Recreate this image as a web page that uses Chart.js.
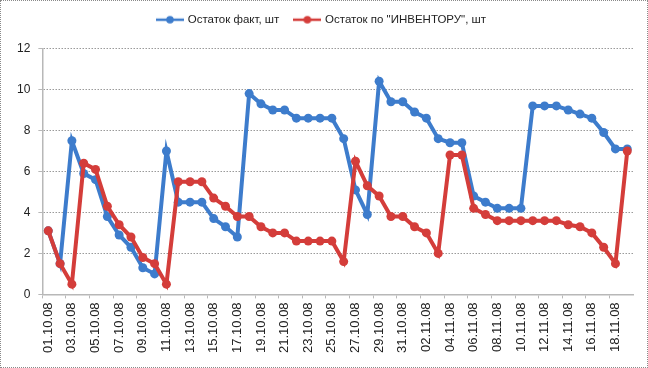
<!DOCTYPE html>
<html>
<head>
<meta charset="utf-8">
<script src="https://cdn.jsdelivr.net/npm/chart.js@4.4.1/dist/chart.umd.min.js"></script>
<style>
html,body{margin:0;padding:0;background:#fff;}
#wrap{width:648px;height:368px;box-sizing:border-box;border:1px dotted #8a8a8a;position:relative;}
canvas{display:block;}
</style>
</head>
<body>
<div id="wrap"><canvas id="c" width="646" height="366"></canvas></div>
<script>
const dates = [
 "01.10.08","02.10.08","03.10.08","04.10.08","05.10.08","06.10.08","07.10.08","08.10.08","09.10.08","10.10.08",
 "11.10.08","12.10.08","13.10.08","14.10.08","15.10.08","16.10.08","17.10.08","18.10.08","19.10.08","20.10.08",
 "21.10.08","22.10.08","23.10.08","24.10.08","25.10.08","26.10.08","27.10.08","28.10.08","29.10.08","30.10.08",
 "31.10.08","01.11.08","02.11.08","03.11.08","04.11.08","05.11.08","06.11.08","07.11.08","08.11.08","09.11.08",
 "10.11.08","11.11.08","12.11.08","13.11.08","14.11.08","15.11.08","16.11.08","17.11.08","18.11.08","19.11.08"
];
const factStock = [
 3.1,1.5,7.5,5.9,5.6,3.8,2.9,2.3,1.3,1.0,
 7.0,4.5,4.5,4.5,3.7,3.3,2.8,9.8,9.3,9.0,
 9.0,8.6,8.6,8.6,8.6,7.6,5.1,3.9,10.4,9.4,
 9.4,8.9,8.6,7.6,7.4,7.4,4.8,4.5,4.2,4.2,
 4.2,9.2,9.2,9.2,9.0,8.8,8.6,7.9,7.1,7.1
];
const inventoryStock = [
 3.1,1.5,0.5,6.4,6.1,4.3,3.4,2.8,1.8,1.5,
 0.5,5.5,5.5,5.5,4.7,4.3,3.8,3.8,3.3,3.0,
 3.0,2.6,2.6,2.6,2.6,1.6,6.5,5.3,4.8,3.8,
 3.8,3.3,3.0,2.0,6.8,6.8,4.2,3.9,3.6,3.6,
 3.6,3.6,3.6,3.6,3.4,3.3,3.0,2.3,1.5,7.0
];
const yTicks = [0,2,4,6,8,10,12];
const seriesNames = ["Остаток факт, шт", "Остаток по \"ИНВЕНТОРУ\", шт"];
const BLUE = "#3d7ccc";
const RED = "#d43d3a";

function legendIcon(color){
  const cv = document.createElement('canvas');
  cv.width = 28; cv.height = 10;
  const g = cv.getContext('2d');
  g.strokeStyle = color; g.lineWidth = 2.5;
  g.beginPath(); g.moveTo(0,5); g.lineTo(28,5); g.stroke();
  g.fillStyle = color;
  g.beginPath(); g.arc(14,5,3.8,0,Math.PI*2); g.fill();
  return cv;
}

const FONT = "'Liberation Sans', Arial, sans-serif";
new Chart(document.getElementById('c'), {
  type: 'line',
  data: {
    labels: dates,
    datasets: [
      {
        label: seriesNames[1], data: inventoryStock,
        borderColor: RED, backgroundColor: RED,
        borderWidth: 4, pointRadius: 4.5, pointBorderWidth: 0,
        pointStyle: 'circle', tension: 0,
        legendIcon: legendIcon(RED)
      },
      {
        label: seriesNames[0], data: factStock,
        borderColor: BLUE, backgroundColor: BLUE,
        borderWidth: 4, pointRadius: 4.5, pointBorderWidth: 0,
        pointStyle: 'circle', tension: 0,
        legendIcon: legendIcon(BLUE)
      }
    ]
  },
  options: {
    responsive: false,
    animation: false,
    layout: { padding: { left: 8, right: 12, top: -3, bottom: 10 } },
    plugins: {
      tooltip: { enabled: false },
      legend: {
        position: 'top',
        labels: {
          color: '#222',
          font: { family: FONT, size: 11.5 },
          usePointStyle: true,
          pointStyleWidth: 24,
          boxHeight: 10,
          padding: 16,
          sort: (a, b) => b.datasetIndex - a.datasetIndex,
          generateLabels: (chart) => chart.data.datasets.map((ds, i) => ({
            text: ds.label, datasetIndex: i, pointStyle: ds.legendIcon,
            fillStyle: ds.borderColor, strokeStyle: ds.borderColor, lineWidth: 0, hidden: false,
            fontColor: '#222'
          }))
        }
      }
    },
    scales: {
      x: {
        offset: true,
        grid: {
          offset: true,
          drawOnChartArea: false,
          drawTicks: true,
          tickLength: 4,
          color: (ctx) => (ctx.index % 2 === 0 ? '#b8b8b8' : 'rgba(0,0,0,0)')
        },
        border: { color: '#b8b8b8', width: 1.5 },
        ticks: {
          autoSkip: false,
          maxRotation: 90, minRotation: 90,
          color: '#222',
          padding: 4,
          font: { family: FONT, size: 13 },
          callback: function(v, i) { return i % 2 === 0 ? this.getLabelForValue(v) : ''; }
        }
      },
      y: {
        min: 0, max: 12,
        afterBuildTicks: (axis) => { axis.ticks = yTicks.map(v => ({ value: v })); },
        grid: {
          color: '#9a9a9a',
          lineWidth: 1,
          tickLength: 4,
          tickColor: '#b8b8b8'
        },
        border: { color: '#b8b8b8', width: 1.5, dash: [1.5, 1.5] },
        ticks: {
          color: '#222',
          padding: 8,
          font: { family: FONT, size: 12 }
        }
      }
    }
  },
  plugins: [{
    id: 'legendGap',
    beforeInit(chart) {
      const lg = chart.legend;
      const orig = lg.fit;
      lg.fit = function() { orig.call(this); this.height += 13; };
    }
  }]
});
</script>
</body>
</html>
